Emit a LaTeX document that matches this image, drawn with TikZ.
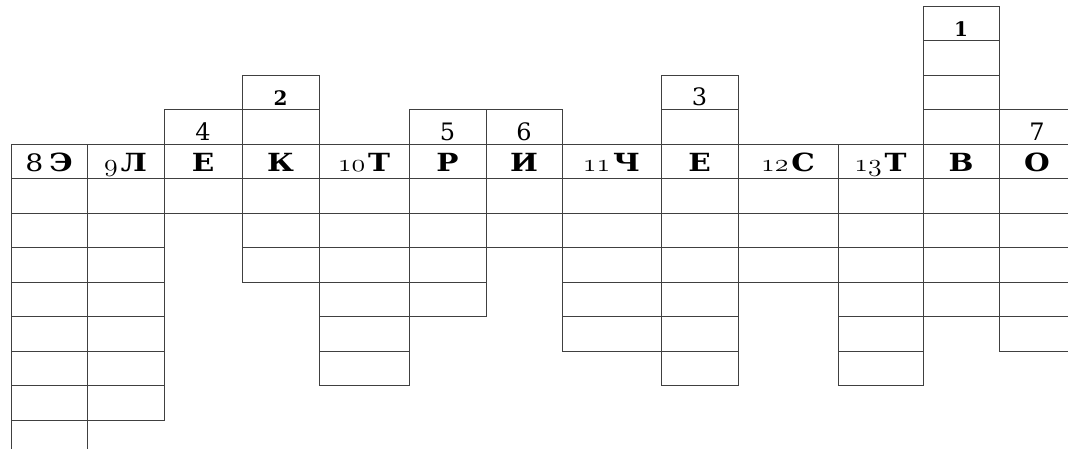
\documentclass[tikz,border=0pt]{standalone}
\usepackage{fontspec}
\setmainfont{DejaVu Serif}
\newfontfamily\wordfont[FakeStretch=1.18]{DejaVu Serif}
\newcommand{\onum}[1]{\scalebox{1.12}[1]{\fontsize{38}{40}\usefont{OML}{lmm}{m}{it}#1}\hspace{3pt}}
\tikzset{
  cell/.style={draw=black!75, line width=0.9pt},
  word/.style={font=\fontsize{25}{30}\wordfont\bfseries, inner sep=0pt, anchor=base},
  clue/.style={font=\fontsize{24}{28}\selectfont, inner sep=0pt, anchor=base},
  clueb/.style={font=\fontsize{20}{24}\selectfont\bfseries, inner sep=0pt, anchor=base}}

\begin{document}
\begin{tikzpicture}[x=1pt, y=-1pt]
\useasboundingbox (0,0) rectangle (1068,448);
\clip (0,0) rectangle (1068,448);
% columns: left/right edge, first and last row, letter of the main row
\foreach \i/\xl/\xr/\kt/\kb/\txt in {
  1/11/87/0/8/{{\mdseries\fontsize{24}{28}\selectfont 8}\hspace{6pt}Э},
  2/87/164/0/7/{\onum{9}Л},
  3/164/242/-1/1/Е,
  4/242/319/-2/3/К,
  5/319/409/0/6/{\onum{10}Т},
  6/409/486/-1/4/Р,
  7/486/562/-1/2/И,
  8/562/661/0/5/{\onum{11}Ч},
  9/661/738/-2/6/Е,
  10/738/838/0/3/{\onum{12}С},
  11/838/923/0/6/{\onum{13}Т},
  12/923/999/-4/4/В,
  13/999/1075/-1/5/О}
{
  \foreach \k in {\kt,...,\kb}
    \draw[cell] (\xl,{144+34.5*(\k)}) rectangle (\xr,{144+34.5*(\k+1)});
  \node[word] (w-\i) at ({(\xl+\xr)/2},171) {\txt};
}
% clue numbers
\foreach \i/\k/\n/\s in {12/-4/1/clueb, 4/-2/2/clueb, 9/-2/3/clue,
  3/-1/4/clue, 6/-1/5/clue, 7/-1/6/clue, 13/-1/7/clue}
  \path (w-\i.base) ++(0,{34.5*(\k+1)-31}) node[\s] (c-\n) {\n};
\end{tikzpicture}
\end{document}
